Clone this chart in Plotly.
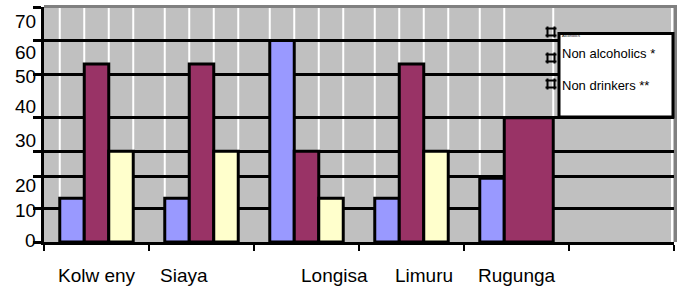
import plotly.graph_objects as go

# ---------------- data ----------------
CATEGORIES = ["Kolw eny", "Siaya", "Longisa", "Limuru", "Rugunga"]
SERIES_NAMES = ["Alcoholics", "Non alcoholics *", "Non drinkers **"]
ALCOHOLICS = [13, 13, 60, 13, 19]
NON_ALCOHOLICS = [53, 53, 27, 53, 37]
NON_DRINKERS = [27, 27, 13, 27, None]
Y_TICK_LABELS = ["0", "10", "20", "30", "40", "50", "60", "70"]
# where the (misaligned) y labels sit, and where the grid lines are drawn
Y_LABEL_AT = [0.5, 9.5, 16.9, 30.3, 40.5, 49.2, 56.5, 65.8]
Y_GRID_AT = [0, 10, 19.6, 27, 37, 50, 60, 70]

# ---------------- style / layout constants ----------------
COLORS = ["#9999FF", "#993366", "#FFFFCC"]
FONT = "Liberation Sans, Arial, sans-serif"
W, H = 680, 290
ML, MR, MT, MB = 44, 6, 7, 48
N_SLOTS = len(CATEGORIES) + 1
GROUP_W = 0.70
BW = GROUP_W / 3
LABEL_NUDGE_PX = [0, -18, 28, 12, 0]   # the original category labels sit slightly off-centre

plot_w = W - ML - MR
plot_h = H - MT - MB


def px(x):
    return (x - ML) / plot_w


def py(y):
    return (H - MB - y) / plot_h


idx = list(range(len(CATEGORIES)))
widths = [
    [BW] * len(idx),
    [2 * BW if nd is None else BW for nd in NON_DRINKERS],
    [BW] * len(idx),
]
offsets = [-GROUP_W / 2 + k * BW for k in range(3)]
series = [ALCOHOLICS, NON_ALCOHOLICS, NON_DRINKERS]

fig = go.Figure()
for k in range(3):
    fig.add_trace(go.Bar(
        x=idx, y=series[k], name=SERIES_NAMES[k],
        width=widths[k], offset=[offsets[k]] * len(idx),
        marker=dict(color=COLORS[k], line=dict(color="black", width=3)),
        showlegend=False, hoverinfo="skip",
    ))

shapes = []
# white vertical lines at bar edges
edges = set()
for k in range(3):
    for i in idx:
        if series[k][i] is None:
            continue
        x0 = i + offsets[k]
        edges.add(round(x0, 4))
        edges.add(round(x0 + widths[k][i], 4))
for e in sorted(edges):
    shapes.append(dict(type="line", xref="x", yref="paper", x0=e, x1=e, y0=0, y1=1,
                       line=dict(color="white", width=2), layer="below"))
shapes.append(dict(type="line", xref="paper", yref="paper", x0=px(672), x1=px(672), y0=0, y1=1,
                   line=dict(color="white", width=2), layer="below"))
# grey frame top / right
shapes.append(dict(type="line", xref="paper", yref="paper", x0=0, x1=px(677), y0=py(6.5), y1=py(6.5),
                   line=dict(color="#808080", width=3), layer="above"))
shapes.append(dict(type="line", xref="paper", yref="paper", x0=px(675.5), x1=px(675.5), y0=0, y1=py(5),
                   line=dict(color="#808080", width=3), layer="above"))
# legend box
shapes.append(dict(type="rect", xref="paper", yref="paper", x0=px(559), x1=px(673), y0=py(117), y1=py(33.5),
                   fillcolor="white", line=dict(color="black", width=3), layer="above"))
# legend icons
for cy in [32, 58, 84]:
    cx = 551
    a, b = 3.5, 5.5
    path = (f"M {px(cx-b)} {py(cy-a)} L {px(cx+b)} {py(cy-a)} "
            f"M {px(cx-b)} {py(cy+a)} L {px(cx+b)} {py(cy+a)} "
            f"M {px(cx-a)} {py(cy-b)} L {px(cx-a)} {py(cy+b)} "
            f"M {px(cx+a)} {py(cy-b)} L {px(cx+a)} {py(cy+b)}")
    shapes.append(dict(type="path", xref="paper", yref="paper", path=path,
                       line=dict(color="black", width=2), layer="above"))

annotations = []
for lab, pos in zip(Y_TICK_LABELS, Y_LABEL_AT):
    annotations.append(dict(text=lab, xref="paper", yref="y", x=0, y=pos, xanchor="right", yanchor="middle",
                            xshift=-6, showarrow=False, font=dict(family=FONT, size=19, color="black")))
for i, lab, nudge in zip(idx, CATEGORIES, LABEL_NUDGE_PX):
    annotations.append(dict(text=lab, xref="x", yref="paper", x=i, y=0, xanchor="center", yanchor="top",
                            xshift=nudge, yshift=-21, showarrow=False,
                            font=dict(family=FONT, size=19, color="black")))
legend_text = [(SERIES_NAMES[0], 36, 4), (SERIES_NAMES[1], 54, 13), (SERIES_NAMES[2], 85, 13)]
for txt, yy, fs in legend_text:
    annotations.append(dict(text=txt, xref="paper", yref="paper", x=px(560), y=py(yy), xanchor="left",
                            yanchor="middle", showarrow=False, font=dict(family=FONT, size=fs, color="black")))

fig.update_layout(
    width=W, height=H,
    margin=dict(l=ML, r=MR, t=MT, b=MB),
    paper_bgcolor="white", plot_bgcolor="#C0C0C0",
    barmode="overlay",
    showlegend=False,
    hovermode=False,
    xaxis=dict(range=[-0.5, N_SLOTS - 0.5], tickvals=[i - 0.5 for i in range(N_SLOTS + 1)],
               showticklabels=False, ticks="outside", ticklen=6, tickwidth=1.5, tickcolor="black",
               showgrid=False, zeroline=False, showline=True, linecolor="black", linewidth=3),
    yaxis=dict(range=[0, 70], tickvals=Y_GRID_AT, showticklabels=False, ticks="outside", ticklen=8,
               tickwidth=3, tickcolor="black", showgrid=True, gridcolor="black", gridwidth=3,
               zeroline=False, showline=True, linecolor="black", linewidth=3),
    shapes=shapes,
    annotations=annotations,
    font=dict(family=FONT),
)

fig.write_html("out.html", config={"displayModeBar": False},
               post_script="document.body.style.margin='0';")
